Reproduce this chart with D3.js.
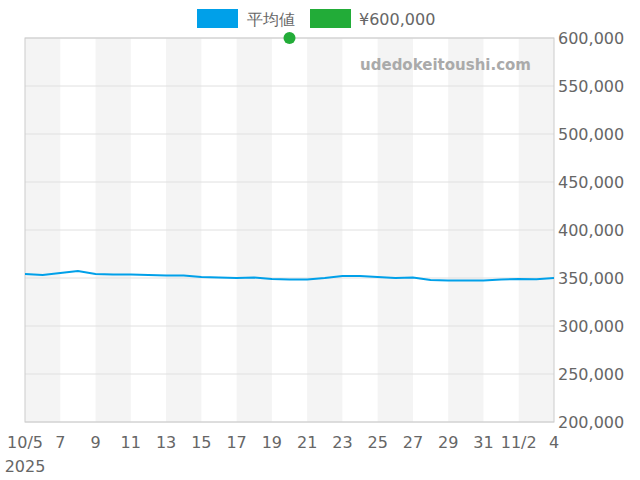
<!DOCTYPE html><html><head><meta charset="utf-8"><script src="https://cdn.jsdelivr.net/npm/d3@7"></script>
<style>body{margin:0}text{font-family:"DejaVu Sans",sans-serif}</style></head><body><svg width="640" height="480"></svg><script>
const dates=["10/5","10/6","10/7","10/8","10/9","10/10","10/11","10/12","10/13","10/14","10/15","10/16","10/17","10/18","10/19","10/20","10/21","10/22","10/23","10/24","10/25","10/26","10/27","10/28","10/29","10/30","10/31","11/1","11/2","11/3","11/4"];
const avg=[354200,353100,355200,357300,354200,353600,353600,353100,352600,352600,351000,350500,350000,350500,349000,348400,348400,350000,352100,352100,351000,350000,350500,347900,347400,347400,347400,348400,349000,348600,350000];
const refIndex=15, refValue=600000;
const tickLabels=["10/5","7","9","11","13","15","17","19","21","23","25","27","29","31","11/2","4"];
const yTicks=[200000,250000,300000,350000,400000,450000,500000,550000,600000];
const svg=d3.select("svg");
const L=25,R=554,T=38,B=422;
const x=d3.scaleLinear().domain([0,dates.length-1]).range([L,R]);
const y=d3.scaleLinear().domain([200000,600000]).range([B,T]);
for(let i=0;i<dates.length-1;i+=4)svg.append("rect").attr("x",x(i)).attr("y",T).attr("width",x(i+2)-x(i)).attr("height",B-T).attr("fill","#f4f4f4");
yTicks.forEach(v=>svg.append("line").attr("x1",L).attr("x2",R).attr("y1",y(v)).attr("y2",y(v)).attr("stroke","#e0e0e0"));
svg.append("rect").attr("x",L).attr("y",T).attr("width",R-L).attr("height",B-T).attr("fill","none").attr("stroke","#ccc");
yTicks.forEach(v=>svg.append("text").attr("x",R+4).attr("y",y(v)+6).attr("font-size",16).attr("fill","#666").text(d3.format(",")(v)));
tickLabels.forEach((t,k)=>svg.append("text").attr("x",x(k*2)).attr("y",448).attr("text-anchor","middle").attr("font-size",16).attr("fill","#666").text(t));
svg.append("text").attr("x",25).attr("y",472).attr("text-anchor","middle").attr("font-size",16).attr("fill","#666").text("2025");
svg.append("path").datum(avg).attr("fill","none").attr("stroke","#00a0e9").attr("stroke-width",2).attr("d",d3.line().x((d,i)=>x(i)).y(d=>y(d)));
svg.append("circle").attr("cx",x(refIndex)).attr("cy",y(refValue)).attr("r",6).attr("fill","#22ac38");
svg.append("text").attr("x",531).attr("y",70).attr("text-anchor","end").attr("font-size",15).attr("font-weight","bold").attr("fill","#aaa").text("udedokeitoushi.com");
svg.append("rect").attr("x",197).attr("y",9).attr("width",41).attr("height",19).attr("fill","#00a0e9");
svg.append("text").attr("x",247).attr("y",25).attr("font-size",16).attr("fill","#666").text("平均値");
svg.append("rect").attr("x",310).attr("y",9).attr("width",41).attr("height",19).attr("fill","#22ac38");
svg.append("text").attr("x",359).attr("y",25).attr("font-size",16).attr("fill","#666").text("¥600,000");
</script></body></html>
